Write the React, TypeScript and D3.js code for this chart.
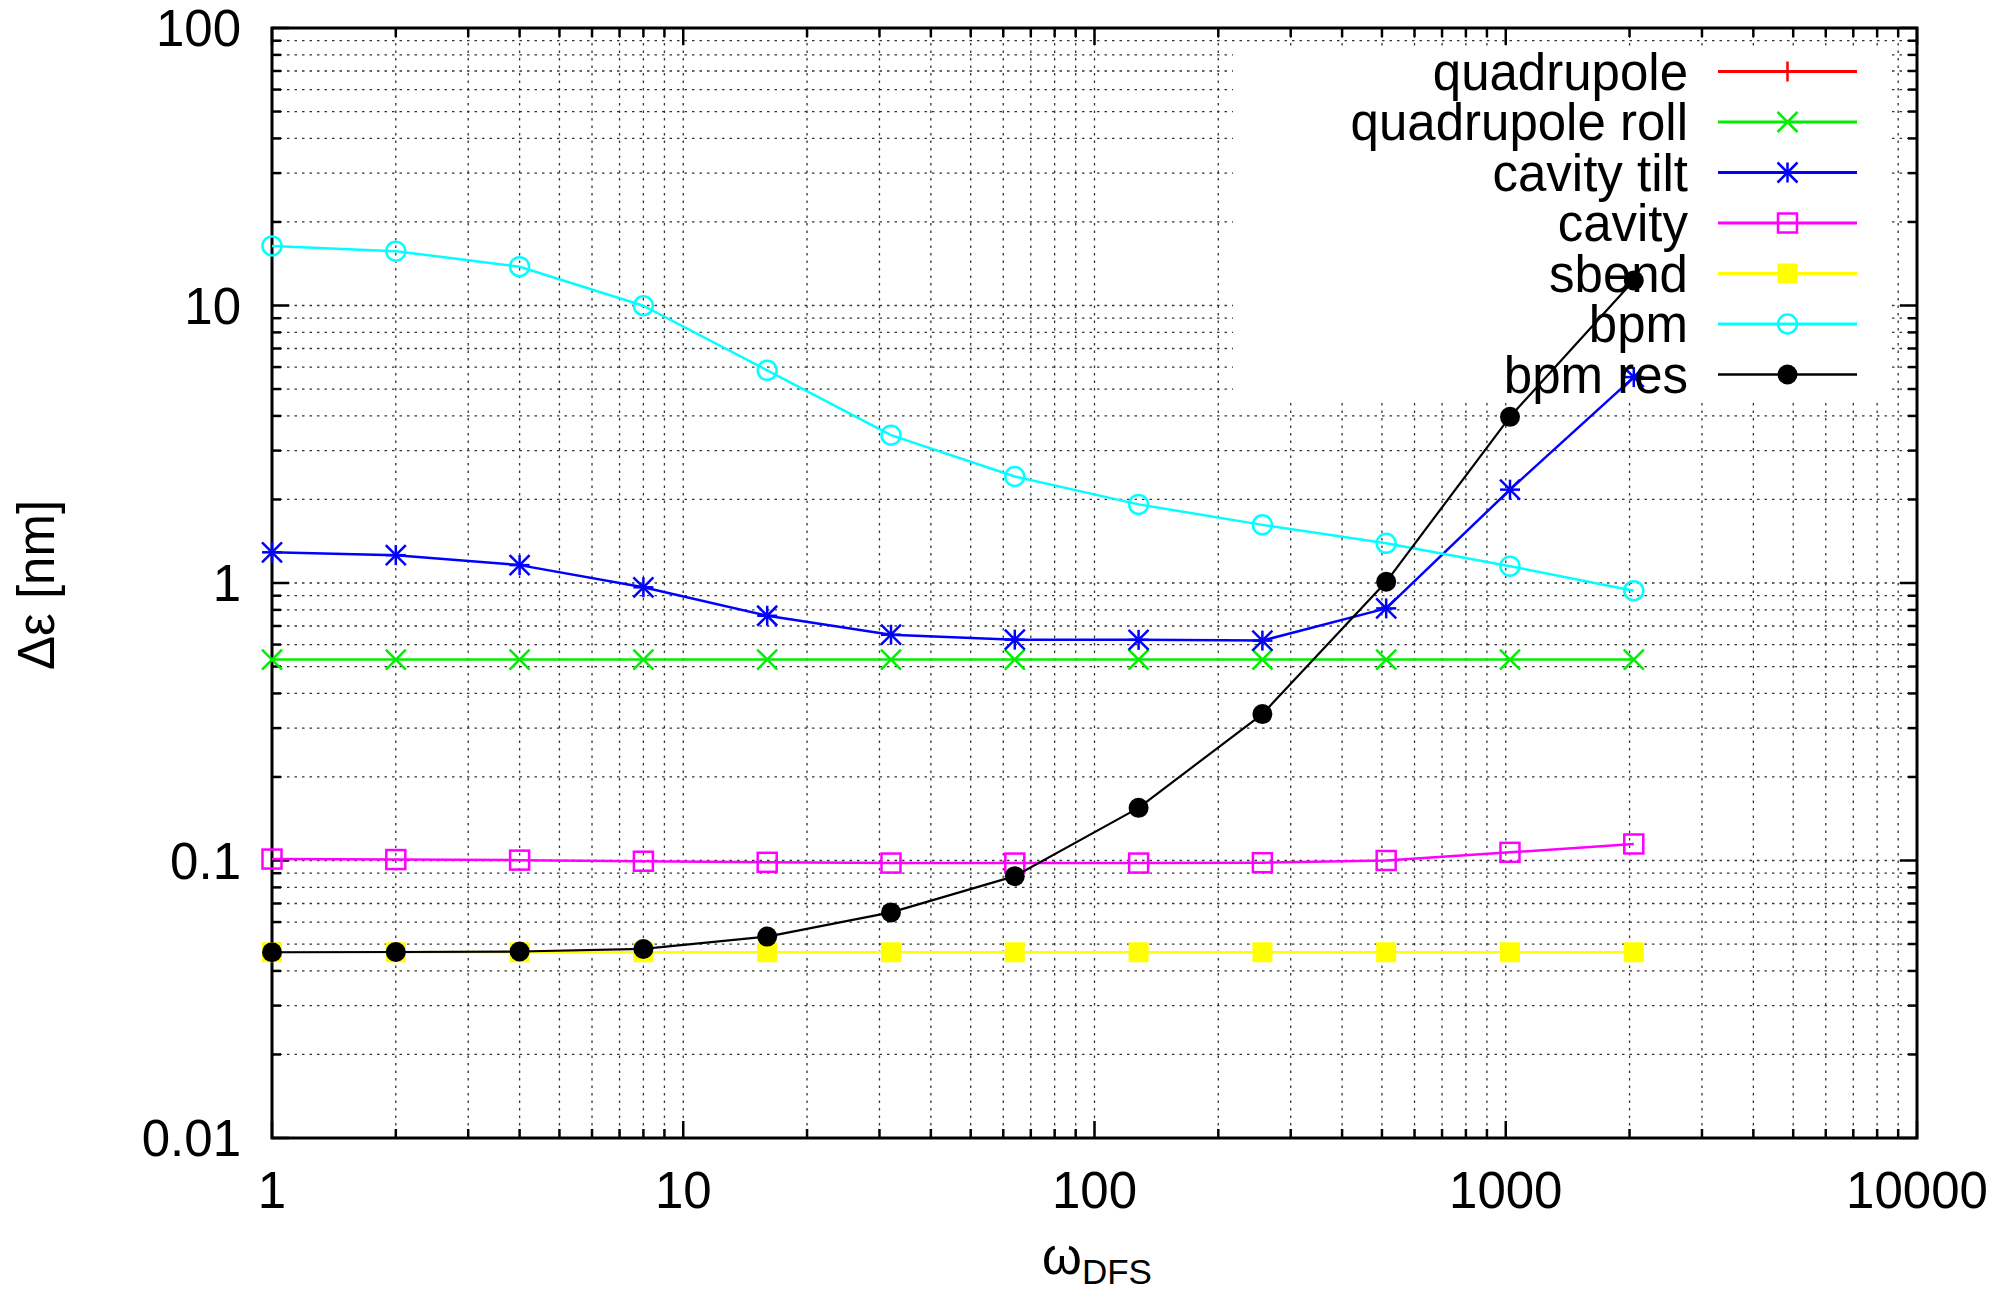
import React from "react";
import * as d3 from "d3";

// ---------- data ----------
const omega = [1, 2, 4, 8, 16, 32, 64, 128, 256, 512, 1024, 2048];

const quadrupole: number[] = [];
const quadrupoleRoll = [0.53, 0.53, 0.53, 0.53, 0.53, 0.53, 0.53, 0.53, 0.53, 0.53, 0.53, 0.53];
const cavityTilt = [1.29, 1.26, 1.16, 0.965, 0.762, 0.651, 0.625, 0.624, 0.62, 0.81, 2.17, 5.52];
const cavity = [0.1012, 0.1008, 0.1003, 0.0994, 0.0985, 0.0979, 0.0979, 0.0979, 0.0982, 0.1, 0.107, 0.1147];
const sbend = [0.0467, 0.0467, 0.0467, 0.0467, 0.0467, 0.0467, 0.0467, 0.0467, 0.0467, 0.0467, 0.0467, 0.0467];
const bpm = [16.4, 15.7, 13.8, 9.98, 5.84, 3.41, 2.42, 1.92, 1.62, 1.39, 1.15, 0.938];
const bpmRes = [0.0467, 0.0468, 0.047, 0.048, 0.0532, 0.065, 0.0878, 0.1548, 0.337, 1.01, 3.97, 12.3];

const seriesNames = ["quadrupole", "quadrupole roll", "cavity tilt", "cavity", "sbend", "bpm", "bpm res"];
const seriesValues = [quadrupole, quadrupoleRoll, cavityTilt, cavity, sbend, bpm, bpmRes];

const xTicks = [1, 10, 100, 1000, 10000];
const xTickLabels = ["1", "10", "100", "1000", "10000"];
const yTicks = [0.01, 0.1, 1, 10, 100];
const yTickLabels = ["0.01", "0.1", "1", "10", "100"];

// ---------- styles ----------
const colors = ["#ff0000", "#00ee00", "#0000ff", "#ff00ff", "#ffff00", "#00ffff", "#000000"];
const markers = ["plus", "cross", "star", "square", "fsquare", "circle", "fcircle"];
const lineWidths = [2.5, 2.5, 2.5, 2.5, 2.5, 2.5, 2.2];

const W = 2000;
const H = 1296;
const L = 272, R = 1917, T = 28, B = 1138;
const FONT = "'Liberation Sans', Arial, Helvetica, sans-serif";
const FS = 51;

function Marker({ kind, x, y, color }: { kind: string; x: number; y: number; color: string }) {
  const s = 10;
  const sw = 2.5;
  switch (kind) {
    case "plus":
      return (
        <g stroke={color} strokeWidth={sw}>
          <line x1={x - s} y1={y} x2={x + s} y2={y} />
          <line x1={x} y1={y - s} x2={x} y2={y + s} />
        </g>
      );
    case "cross":
      return (
        <g stroke={color} strokeWidth={sw}>
          <line x1={x - s} y1={y - s} x2={x + s} y2={y + s} />
          <line x1={x - s} y1={y + s} x2={x + s} y2={y - s} />
        </g>
      );
    case "star":
      return (
        <g stroke={color} strokeWidth={sw}>
          <line x1={x - s} y1={y} x2={x + s} y2={y} />
          <line x1={x} y1={y - s} x2={x} y2={y + s} />
          <line x1={x - s} y1={y - s} x2={x + s} y2={y + s} />
          <line x1={x - s} y1={y + s} x2={x + s} y2={y - s} />
        </g>
      );
    case "square":
      return <rect x={x - 9.5} y={y - 9.5} width={19} height={19} fill="none" stroke={color} strokeWidth={sw} />;
    case "fsquare":
      return <rect x={x - 10} y={y - 10} width={20} height={20} fill={color} />;
    case "circle":
      return <circle cx={x} cy={y} r={9.5} fill="none" stroke={color} strokeWidth={sw} />;
    case "fcircle":
      return <circle cx={x} cy={y} r={10} fill={color} />;
    default:
      return null;
  }
}

export default function App() {
  const x = d3.scaleLog().domain([1, 10000]).range([L, R]);
  const y = d3.scaleLog().domain([0.01, 100]).range([B, T]);

  const xMinor: number[] = [];
  for (let d = 0; d < 4; d++) for (let k = 2; k <= 9; k++) xMinor.push(k * Math.pow(10, d));
  const yMinor: number[] = [];
  for (let d = -2; d < 2; d++) for (let k = 2; k <= 9; k++) yMinor.push(+(k * Math.pow(10, d)).toPrecision(3));

  const xGrid = [...xMinor, 10, 100, 1000];
  const yGrid = [...yMinor, 0.1, 1, 10];

  const line = d3
    .line<[number, number]>()
    .x((d) => x(d[0]))
    .y((d) => y(d[1]));

  const majorLen = 17;
  const minorLen = 9;

  // legend layout
  const legTextX = 1688;
  const legLineX1 = 1718;
  const legLineX2 = 1857;
  const legY0 = 71.5;
  const legDy = 50.5;

  return (
    <svg
      width={W}
      height={H}
      style={{ position: "absolute", left: 0, top: 0, display: "block", background: "#fff" }}
      fontFamily={FONT}
    >
      <rect x={0} y={0} width={W} height={H} fill="#fff" />
      {/* grid */}
      <g stroke="#333" strokeWidth={1.3} strokeDasharray="2.5,5">
        {xGrid.map((v, i) => (
          <line key={"gx" + i} x1={x(v)} x2={x(v)} y1={T} y2={B} />
        ))}
        {yGrid.map((v, i) => (
          <line key={"gy" + i} x1={L} x2={R} y1={y(v)} y2={y(v)} />
        ))}
      </g>
      {/* opaque key area */}
      <rect x={1233} y={48} width={655} height={354} fill="#fff" />

      {/* ticks */}
      <g stroke="#000" strokeWidth={2.5}>
        {xTicks.map((v, i) => (
          <g key={"xt" + i}>
            <line x1={x(v)} x2={x(v)} y1={B} y2={B - majorLen} />
            <line x1={x(v)} x2={x(v)} y1={T} y2={T + majorLen} />
          </g>
        ))}
        {xMinor.map((v, i) => (
          <g key={"xm" + i}>
            <line x1={x(v)} x2={x(v)} y1={B} y2={B - minorLen} />
            <line x1={x(v)} x2={x(v)} y1={T} y2={T + minorLen} />
          </g>
        ))}
        {yTicks.map((v, i) => (
          <g key={"yt" + i}>
            <line x1={L} x2={L + majorLen} y1={y(v)} y2={y(v)} />
            <line x1={R} x2={R - majorLen} y1={y(v)} y2={y(v)} />
          </g>
        ))}
        {yMinor.map((v, i) => (
          <g key={"ym" + i}>
            <line x1={L} x2={L + minorLen} y1={y(v)} y2={y(v)} />
            <line x1={R} x2={R - minorLen} y1={y(v)} y2={y(v)} />
          </g>
        ))}
      </g>
      {/* border */}
      <rect x={L} y={T} width={R - L} height={B - T} fill="none" stroke="#000" strokeWidth={3} />

      {/* tick labels */}
      <g fontSize={FS} fill="#000">
        {xTicks.map((v, i) => (
          <text key={"xl" + i} x={x(v)} y={1208} textAnchor="middle">
            {xTickLabels[i]}
          </text>
        ))}
        {yTicks.map((v, i) => (
          <text key={"yl" + i} x={241} y={y(v)} dy="0.36em" textAnchor="end">
            {yTickLabels[i]}
          </text>
        ))}
      </g>

      {/* axis labels */}
      <text x={1097} y={1274} textAnchor="middle" fontSize={FS} fill="#000">
        ω
        <tspan fontSize={35} dy={10}>
          DFS
        </tspan>
      </text>
      <text
        transform={`translate(36,585) rotate(-90)`}
        textAnchor="middle"
        dy="0.36em"
        fontSize={FS}
        fill="#000"
      >
        Δε [nm]
      </text>

      {/* legend and series */}
      {seriesNames.map((name, i) => {
        const ly = legY0 + i * legDy;
        const vals = seriesValues[i];
        const pts: [number, number][] = vals.map((v, j) => [omega[j], v]);
        return (
          <g key={"s" + i}>
            <text x={legTextX} y={ly} dy="0.36em" textAnchor="end" fontSize={FS} fill="#000">
              {name}
            </text>
            <line x1={legLineX1} x2={legLineX2} y1={ly} y2={ly} stroke={colors[i]} strokeWidth={lineWidths[i] + 0.5} />
            <Marker kind={markers[i]} x={(legLineX1 + legLineX2) / 2} y={ly} color={colors[i]} />
            {pts.length > 0 && (
              <path d={line(pts) || ""} fill="none" stroke={colors[i]} strokeWidth={lineWidths[i]} strokeLinejoin="round" />
            )}
            {pts.map((p, j) => (
              <Marker key={j} kind={markers[i]} x={x(p[0])} y={y(p[1])} color={colors[i]} />
            ))}
          </g>
        );
      })}
    </svg>
  );
}
